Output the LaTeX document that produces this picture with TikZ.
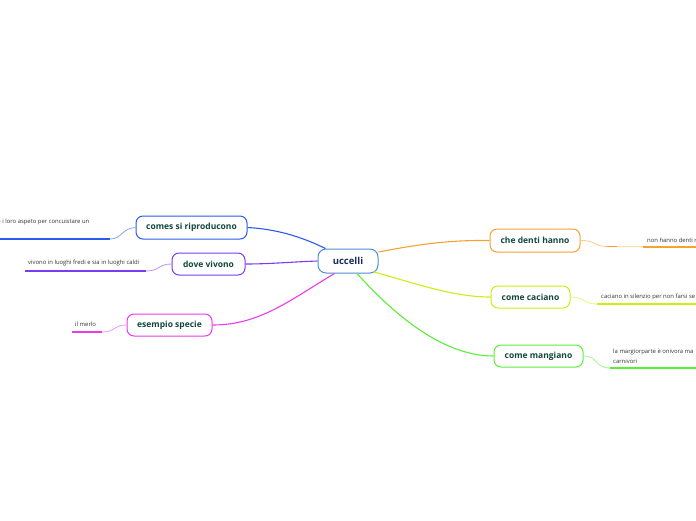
\documentclass[tikz,border=0pt]{standalone}
\usepackage{fontspec}
\setmainfont{Open Sans}
\definecolor{cblue}{HTML}{2A5BEE}
\definecolor{cpurple}{HTML}{7A3CF0}
\definecolor{cmag}{HTML}{EA3BEA}
\definecolor{corange}{HTML}{F7A22E}
\definecolor{cyel}{HTML}{CCEE11}
\definecolor{cgreen}{HTML}{5AEE3A}
\definecolor{ccenter}{HTML}{4A8FD8}
\definecolor{ntext}{HTML}{12483A}
\definecolor{ctext}{HTML}{1A2A5A}
\tikzset{
  topic/.style={draw=#1, line width=1pt, rounded corners=7pt, fill=white, minimum height=22pt, inner xsep=10pt, font=\fontsize{8.5}{10}\selectfont\bfseries, text=ntext},
  leaf/.style={inner sep=0pt, font=\fontsize{5.9}{10}\selectfont, text=black!80, align=left},
  conn/.style={draw=#1, line width=1.1pt},
  thin/.style={draw=#1!55, line width=0.8pt},
  uline/.style={draw=#1, line width=2pt},
}
\begin{document}
\begin{tikzpicture}[x=1pt,y=-1pt]
\useasboundingbox (0,0) rectangle (696,520);
% central
\node[draw=ccenter, line width=1pt, rounded corners=8pt, fill=white, minimum width=60pt, minimum height=24pt, font=\fontsize{9.5}{11}\selectfont\bfseries, text=ctext] (u) at (348,261) {uccelli};
% topics
\node[topic=cblue, minimum width=111pt, minimum height=23pt] (t1) at (191.5,227.5) {comes si riproducono};
\node[topic=cpurple, minimum width=73pt] (t2) at (208.5,264) {dove vivono};
\node[topic=cmag, minimum width=85pt] (t3) at (169.5,325) {esempio specie};
\node[topic=corange, minimum width=90pt, minimum height=23pt] (t4) at (535,240.5) {che denti hanno};
\node[topic=cyel, minimum width=79pt] (t5) at (530.5,297) {come caciano};
\node[topic=cgreen, minimum width=89pt] (t6) at (538.5,356) {come mangiano};
% connectors from center
\draw[conn=cblue] (u.north west) ++(8,0) coordinate (a1) .. controls (300,236) and (275,229) .. (t1.east);
\draw[conn=cpurple] (u.west) .. controls (290,262) and (270,264) .. (t2.east);
\draw[conn=cmag] (u.south west) ++(17,0) coordinate (a3) .. controls (290,300) and (260,325) .. (t3.east);
\draw[conn=corange] (u.east) ++(0,-9) coordinate (a4) .. controls (420,244) and (450,240) .. (t4.west);
\draw[conn=cyel] (u.south east) ++(-6,-2) coordinate (a5) .. controls (420,285) and (455,297) .. (t5.west);
\draw[conn=cgreen] (u.south) ++(9,0) coordinate (a6) .. controls (390,310) and (440,356) .. (t6.west);
% leaves
\node[leaf, anchor=west] (l1) at (-3,222) {o i loro aspeto per concuistare un};
\coordinate (l1a) at (0,239); \coordinate (l1b) at (110,239);
\draw[uline=cblue] (l1a) -- (l1b);
\draw[thin=cblue] (l1b) .. controls (122,239) and (122,228) .. (t1.west);

\node[leaf, anchor=west] (l2) at (28,263) {vivono in luoghi fredi e sia in luoghi caldi};
\coordinate (l2a) at (25,271); \coordinate (l2b) at (146,271);
\draw[uline=cpurple] (l2a) -- (l2b);
\draw[thin=cpurple] (l2b) .. controls (160,271) and (158,264) .. (t2.west);

\node[leaf, anchor=west] (l3) at (75,324.5) {il merlo};
\coordinate (l3a) at (72,332); \coordinate (l3b) at (102,332);
\draw[uline=cmag] (l3a) -- (l3b);
\draw[thin=cmag] (l3b) .. controls (116,332) and (113,325) .. (t3.west);

\node[leaf, anchor=west] (l4) at (647,240) {non hanno denti n};
\coordinate (l4a) at (607,246.5); \coordinate (l4b) at (696,247);
\draw[draw=corange!40, line width=1pt] (l4a) -- (l4b);
\draw[draw=corange, line width=1.5pt] (l4a) -- ++(10,0);
\draw[draw=corange, line width=1.5pt] (643,247) -- (l4b);
\draw[thin=corange] (t4.east) .. controls (595,240) and (594,246.5) .. (l4a);

\node[leaf, anchor=west] (l5) at (601,297) {caciano in silenzio per non farsi se};
\coordinate (l5a) at (597,304); \coordinate (l5b) at (696,304);
\draw[uline=cyel] (l5a) -- (l5b);
\draw[thin=cyel] (t5.east) .. controls (585,297) and (583,304) .. (l5a);

\node[leaf, anchor=west, align=left] (l6) at (613,356) {la margiorparte è onivora ma\\carnivori};
\coordinate (l6a) at (610,368); \coordinate (l6b) at (696,368);
\draw[uline=cgreen] (l6a) -- (l6b);
\draw[thin=cgreen] (t6.east) .. controls (598,356) and (595,368) .. (l6a);
\end{tikzpicture}
\end{document}
